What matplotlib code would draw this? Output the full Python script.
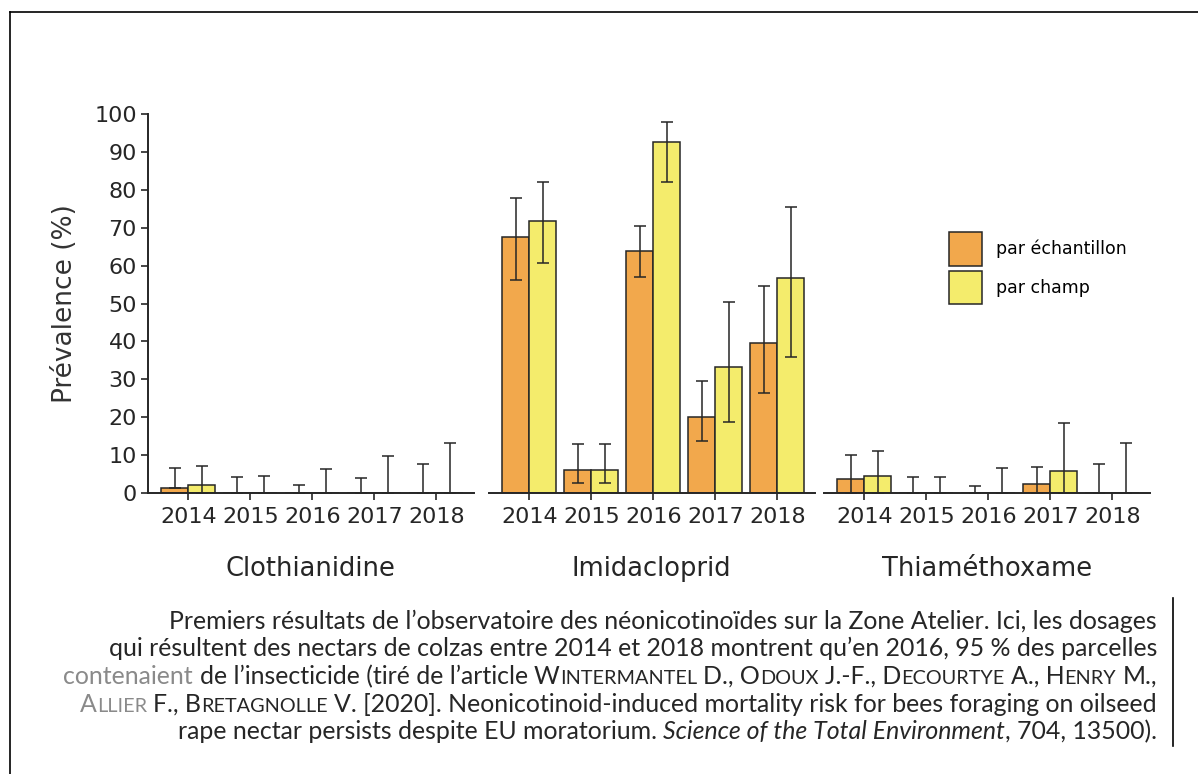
import matplotlib
matplotlib.use("Agg")
import matplotlib.pyplot as plt
import numpy as np
from matplotlib.lines import Line2D
from matplotlib.patches import Patch

# --- data ---
years = ["2014", "2015", "2016", "2017", "2018"]
groups = ["Clothianidine", "Imidacloprid", "Thiaméthoxame"]

# par échantillon (orange)
clo_ech = [1.2, 0, 0, 0, 0]
clo_ech_lo = [1.2, 0, 0, 0, 0]
clo_ech_hi = [6.5, 4.2, 2.1, 3.9, 7.7]
imi_ech = [67.6, 6.1, 63.9, 20.0, 39.5]
imi_ech_lo = [56.3, 2.6, 57.1, 13.7, 26.3]
imi_ech_hi = [77.9, 12.9, 70.5, 29.5, 54.7]
thi_ech = [3.7, 0, 0, 2.4, 0]
thi_ech_lo = [0, 0, 0, 0, 0]
thi_ech_hi = [10.0, 4.2, 1.8, 6.8, 7.6]

# par champ (yellow)
clo_cha = [2.1, 0, 0, 0, 0]
clo_cha_lo = [0, 0, 0, 0, 0]
clo_cha_hi = [7.1, 4.5, 6.3, 9.8, 13.2]
imi_cha = [71.8, 6.1, 92.6, 33.2, 56.6]
imi_cha_lo = [60.8, 2.6, 82.1, 18.7, 36.0]
imi_cha_hi = [82.1, 12.9, 97.9, 50.5, 75.5]
thi_cha = [4.5, 0, 0, 5.8, 0]
thi_cha_lo = [0, 0, 0, 0, 0]
thi_cha_hi = [11.0, 4.2, 6.6, 18.4, 13.2]

ech = [clo_ech, imi_ech, thi_ech]
ech_lo = [clo_ech_lo, imi_ech_lo, thi_ech_lo]
ech_hi = [clo_ech_hi, imi_ech_hi, thi_ech_hi]
cha = [clo_cha, imi_cha, thi_cha]
cha_lo = [clo_cha_lo, imi_cha_lo, thi_cha_lo]
cha_hi = [clo_cha_hi, imi_cha_hi, thi_cha_hi]

legend_labels = ["par échantillon", "par champ"]
caption_font = ["Lato", "DejaVu Sans"]

ORANGE = "#f2a84c"
YELLOW = "#f4ec6c"
INK = "#262626"

W, H = 1198, 774
plt.rcParams["font.family"] = ["DejaVu Sans"]

fig = plt.figure(figsize=(W / 100, H / 100), dpi=100)

# pixel layout of the three panels
lefts = [148, 489, 824]
bottom_px, top_px = 493, 114
xlim = (-0.65, 4.6)
step = 62
bw = 0.435

axes = []
for g in range(3):
    ax = fig.add_axes([lefts[g] / W, 1 - bottom_px / H,
                       (xlim[1] - xlim[0]) * step / W, (bottom_px - top_px) / H])
    x = np.arange(len(years))
    lo_e = np.array(ech[g]) - np.array(ech_lo[g])
    hi_e = np.array(ech_hi[g]) - np.array(ech[g])
    lo_c = np.array(cha[g]) - np.array(cha_lo[g])
    hi_c = np.array(cha_hi[g]) - np.array(cha[g])
    ax.bar(x - bw / 2, ech[g], bw, color=ORANGE, edgecolor=INK, linewidth=1.1, zorder=1)
    ax.bar(x + bw / 2, cha[g], bw, color=YELLOW, edgecolor=INK, linewidth=1.1, zorder=1)
    ax.errorbar(x - bw / 2, ech[g], yerr=[lo_e, hi_e], fmt="none", ecolor=INK,
                elinewidth=1.1, capsize=4, capthick=1.1, zorder=2)
    ax.errorbar(x + bw / 2, cha[g], yerr=[lo_c, hi_c], fmt="none", ecolor=INK,
                elinewidth=1.1, capsize=4, capthick=1.1, zorder=2)
    ax.set_xlim(*xlim)
    ax.set_ylim(0, 100)
    ax.set_xticks(x)
    ax.set_xticklabels(years)
    ax.tick_params(axis="x", length=5, width=1.2, color=INK, labelsize=16,
                   labelcolor=INK, pad=5)
    for s in ["top", "right"]:
        ax.spines[s].set_visible(False)
    ax.spines["bottom"].set_linewidth(1.4)
    ax.spines["bottom"].set_color(INK)
    ax.spines["bottom"].set_zorder(3)
    if g == 0:
        ax.spines["left"].set_linewidth(1.4)
        ax.spines["left"].set_color(INK)
        ax.set_yticks(np.arange(0, 101, 10))
        ax.tick_params(axis="y", length=5, width=1.2, color=INK, labelsize=16,
                       labelcolor=INK, pad=3)
        ax.set_ylabel("Prévalence (%)", fontsize=19, color="#333333", labelpad=12)
    else:
        ax.spines["left"].set_visible(False)
        ax.set_yticks([])
    ax.set_xlabel(groups[g], fontsize=18.5, color=INK, labelpad=21)
    ax.patch.set_alpha(0)
    axes.append(ax)

handles = [Patch(facecolor=ORANGE, edgecolor=INK, linewidth=1.1),
           Patch(facecolor=YELLOW, edgecolor=INK, linewidth=1.1)]
fig.legend(handles, legend_labels, loc="upper left",
           bbox_to_anchor=(949 / W, 1 - 232 / H), frameon=False, fontsize=12.5,
           handlelength=1.9, handleheight=2.6, handletextpad=0.8,
           labelspacing=0.3, borderpad=0, borderaxespad=0)

# frame lines of the scanned page
fig.add_artist(Line2D([10 / W, 1], [1 - 12 / H, 1 - 12 / H], color="black", lw=1.2))
fig.add_artist(Line2D([10 / W, 10 / W], [1 - 12 / H, 0], color="black", lw=1.2))
fig.add_artist(Line2D([1173 / W, 1173 / W], [1 - 598 / H, 1 - 746 / H], color="black", lw=1.2))

# --- caption, right aligned, small caps for author names ---
cap_lines = [
    [("Premiers résultats de l’observatoire des néonicotinoïdes sur la Zone Atelier. Ici, les dosages", "n", False)],
    [("qui résultent des nectars de colzas entre 2014 et 2018 montrent qu’en 2016, 95 % des parcelles", "n", False)],
    [("contenaient", "g", False), ("de l’insecticide (tiré de l’article", "n", True),
     ("W", "n", True), ("INTERMANTEL", "s", False), ("D., O", "n", True), ("DOUX", "s", False),
     ("J.-F., D", "n", True), ("ECOURTYE", "s", False), ("A., H", "n", True), ("ENRY", "s", False),
     ("M.,", "n", True)],
    [("A", "g", False), ("LLIER", "sg", False), ("F., B", "n", True), ("RETAGNOLLE", "s", False),
     ("V. [2020]. Neonicotinoid-induced mortality risk for bees foraging on oilseed", "n", True)],
    [("rape nectar persists despite EU moratorium.", "n", False),
     ("Science of the Total Environment", "i", True), (", 704, 13500).", "n", False)],
]
cap_y = [629, 656, 684, 712, 739]
cap_right = 1157
cap_left_full = 63

fig.canvas.draw()
r = fig.canvas.get_renderer()


def layout_line(parts, yy, fs):
    probe1 = fig.text(0, 0, "a a", fontsize=fs, family=caption_font)
    probe2 = fig.text(0, 0, "aa", fontsize=fs, family=caption_font)
    space = probe1.get_window_extent(r).width - probe2.get_window_extent(r).width
    probe1.remove()
    probe2.remove()
    placed = []
    for txt, kind, gap in parts:
        size = fs * 0.8 if "s" in kind else fs
        col = "#8a8a8a" if "g" in kind else INK
        style = "italic" if kind == "i" else "normal"
        t = fig.text(0, 1 - yy / H, txt, fontsize=size, family=caption_font, color=col,
                     style=style, ha="left", va="baseline")
        placed.append((t, gap))
    widths = [t.get_window_extent(r).width for t, _ in placed]
    total = sum(widths) + space * sum(1 for _, gp in placed if gp)
    xpos = cap_right - total
    for (t, gp), w in zip(placed, widths):
        if gp:
            xpos += space
        t.set_x(xpos / W)
        xpos += w
    return placed, total


# size the caption so the full-width line spans the text block
fs0 = 15.0
tmp, width0 = layout_line(cap_lines[2], cap_y[2], fs0)
for t, _ in tmp:
    t.remove()
fs = fs0 * (cap_right - cap_left_full) / width0

for parts, yy in zip(cap_lines, cap_y):
    layout_line(parts, yy, fs)

fig.savefig("out.png", dpi=100, facecolor="white")
